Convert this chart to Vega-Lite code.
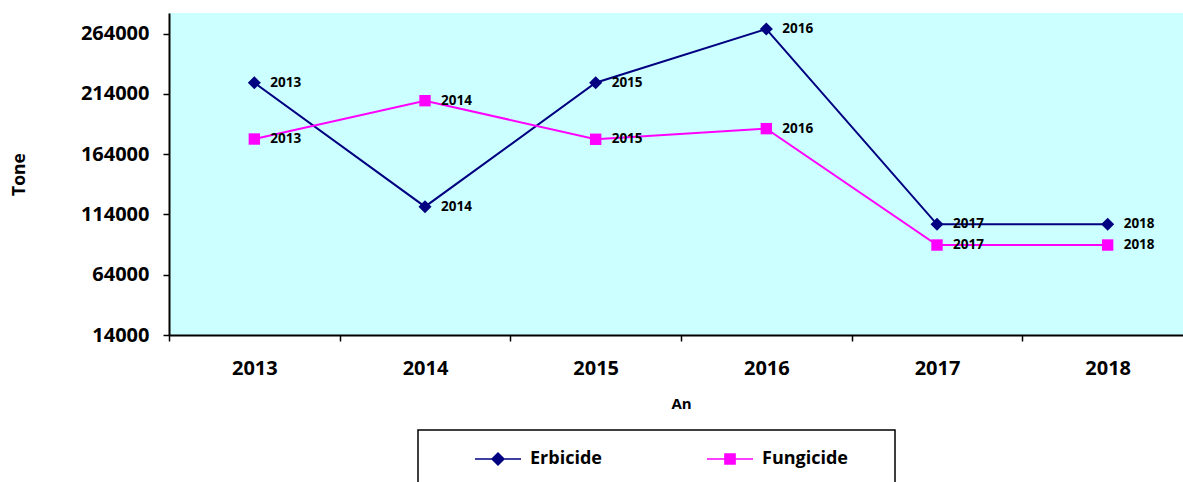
{
  "$schema": "https://vega.github.io/schema/vega-lite/v6.json",
  "width": 1024,
  "height": 322,
  "autosize": {"type": "none"},
  "padding": {"left": 169, "top": 13, "right": 0, "bottom": 147},
  "background": "white",
  "config": {
    "view": {"fill": "#CCFFFF", "stroke": null},
    "font": "Open Sans",
    "axis": {
      "domainColor": "black",
      "domainWidth": 2,
      "tickColor": "black",
      "tickWidth": 1.5,
      "tickSize": 6,
      "grid": false,
      "labelFont": "Open Sans",
      "labelFontWeight": "bold",
      "labelColor": "black",
      "titleFont": "Open Sans",
      "titleFontWeight": "bold",
      "titleColor": "black"
    }
  },
  "data": {
    "values": [
      {"An": "2013", "Serie": "Erbicide", "Tone": 223200},
      {"An": "2014", "Serie": "Erbicide", "Tone": 120400},
      {"An": "2015", "Serie": "Erbicide", "Tone": 223200},
      {"An": "2016", "Serie": "Erbicide", "Tone": 267700},
      {"An": "2017", "Serie": "Erbicide", "Tone": 105800},
      {"An": "2018", "Serie": "Erbicide", "Tone": 105800},
      {"An": "2013", "Serie": "Fungicide", "Tone": 176500},
      {"An": "2014", "Serie": "Fungicide", "Tone": 208300},
      {"An": "2015", "Serie": "Fungicide", "Tone": 176300},
      {"An": "2016", "Serie": "Fungicide", "Tone": 185100},
      {"An": "2017", "Serie": "Fungicide", "Tone": 88600},
      {"An": "2018", "Serie": "Fungicide", "Tone": 88600}
    ]
  },
  "encoding": {
    "x": {
      "field": "An",
      "type": "ordinal",
      "scale": {"type": "band", "paddingInner": 0, "paddingOuter": 0},
      "axis": {
        "title": "An",
        "labelAngle": 0,
        "labelFontSize": 20,
        "labelPadding": 17,
        "tickBand": "extent",
        "titleFontSize": 15,
        "titlePadding": 18
      }
    },
    "y": {
      "field": "Tone",
      "type": "quantitative",
      "scale": {"domain": [14000, 281000], "nice": false, "zero": false},
      "axis": {
        "title": "Tone",
        "values": [14000, 64000, 114000, 164000, 214000, 264000],
        "format": "d",
        "labelFontSize": 20,
        "labelPadding": 14,
        "titleFontSize": 17.5,
        "titlePadding": 52
      }
    },
    "color": {
      "field": "Serie",
      "type": "nominal",
      "scale": {"domain": ["Erbicide", "Fungicide"], "range": ["#000080", "#FF00FF"]},
      "legend": {
        "title": null,
        "orient": "none",
        "legendX": 249,
        "legendY": 417,
        "direction": "horizontal",
        "strokeColor": "black",
        "padding": 5,
        "symbolOffset": 51,
        "symbolSize": 2116,
        "labelOffset": 8,
        "columnPadding": 53,
        "labelFont": "Open Sans",
        "labelFontSize": 18,
        "labelFontWeight": "bold",
        "labelColor": "black",
        "encode": {
          "symbols": {
            "update": {
              "shape": {"signal": "datum.value === 'Erbicide' ? 'M0,1M-1,0L1,0M0,-0.26L0.26,0L0,0.26L-0.26,0Z' : 'M6.8,1M-1,0L1,0M-0.22,-0.22L0.22,-0.22L0.22,0.22L-0.22,0.22Z'"},
              "fill": {"signal": "datum.value === 'Erbicide' ? '#000080' : '#FF00FF'"},
              "stroke": {"signal": "datum.value === 'Erbicide' ? '#000080' : '#FF00FF'"},
              "strokeWidth": {"value": 1.5},
              "size": {"value": 2116},
              "opacity": {"value": 1}
            }
          },
          "legend": {"update": {"strokeWidth": {"value": 1.5}}}
        }
      }
    }
  },
  "layer": [
    {"mark": {"type": "line", "strokeWidth": 2}},
    {
      "transform": [{"filter": "datum.Serie === 'Erbicide'"}],
      "mark": {"type": "point", "shape": "diamond", "filled": true, "opacity": 1, "size": 170}
    },
    {
      "transform": [{"filter": "datum.Serie === 'Fungicide'"}],
      "mark": {"type": "point", "shape": "square", "filled": true, "opacity": 1, "size": 130}
    },
    {
      "mark": {"type": "text", "align": "left", "baseline": "middle", "dx": 16, "fontSize": 13.5, "fontWeight": "bold", "font": "Open Sans"},
      "encoding": {
        "text": {"field": "An"},
        "color": {"value": "black"}
      }
    }
  ]
}
